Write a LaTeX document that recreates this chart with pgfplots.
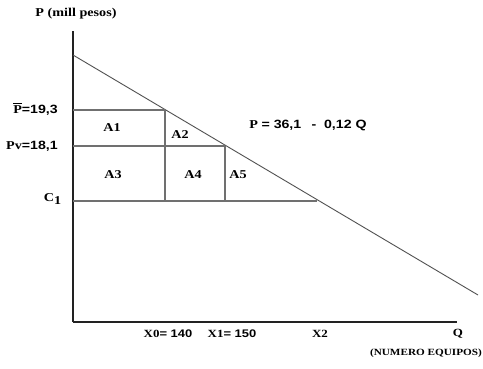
\documentclass[border=0pt]{standalone}
\usepackage{pgfplots}
\pgfplotsset{compat=1.18}
\usepackage{graphicx}
\usepackage{fontspec}
\setmainfont{Liberation Serif}
\newfontfamily\arial{Liberation Sans}
\newcommand{\st}[1]{\scalebox{1.18}[1]{#1}}
\newcommand{\Pbar}{\leavevmode\vbox{\hrule height 0.7pt\kern 2.2pt\hbox{P}}}
\definecolor{axc}{HTML}{222222}
\definecolor{grc}{HTML}{707070}
\definecolor{dmc}{HTML}{505050}
\begin{document}
\begin{tikzpicture}
\begin{axis}[x=1bp,y=1bp,xmin=-73,xmax=410,ymin=-46,ymax=322,
  hide axis,clip=false,scale only axis]
\path (rel axis cs:0,0) rectangle (rel axis cs:1,1);
% axes
\addplot[axc,line width=1.3bp] coordinates {(0,0) (0,291)};
\addplot[axc,line width=1.3bp] coordinates {(0,0) (384,0)};
% demand line
\addplot[dmc,line width=0.9bp] coordinates {(0,267) (405,27)};
% rectangles
\addplot[grc,line width=1.1bp] coordinates {(0,212) (92,212)};
\addplot[grc,line width=1.1bp] coordinates {(92,121) (92,212)};
\addplot[grc,line width=1.1bp] coordinates {(0,176) (152,176)};
\addplot[grc,line width=1.1bp] coordinates {(152,121) (152,176)};
\addplot[grc,line width=1.1bp] coordinates {(0,121) (244,121)};
% labels
\node[font=\fontsize{12bp}{14bp}\selectfont\bfseries] at (axis cs:3,308) {\st{P (mill pesos)}};
\node[anchor=east,inner sep=0pt,font=\fontsize{12bp}{14bp}\selectfont\bfseries] at (axis cs:-15,213) {\st{\Pbar\arial=19,3}};
\node[anchor=east,inner sep=0pt,font=\fontsize{12bp}{14bp}\selectfont\bfseries] at (axis cs:-15,176) {\st{Pv\arial=18,1}};
\node[anchor=east,inner sep=0pt,font=\fontsize{12bp}{14bp}\selectfont\bfseries] at (axis cs:-11,123) {\st{C$_{\mbox{\bfseries 1}}$}};
\node[font=\fontsize{12bp}{14bp}\selectfont\bfseries] at (axis cs:39,194) {\st{A1}};
\node[font=\fontsize{12bp}{14bp}\selectfont\bfseries] at (axis cs:107,187) {\st{A2}};
\node[font=\fontsize{12bp}{14bp}\selectfont\bfseries] at (axis cs:40,147) {\st{A3}};
\node[font=\fontsize{12bp}{14bp}\selectfont\bfseries] at (axis cs:120,147) {\st{A4}};
\node[font=\fontsize{12bp}{14bp}\selectfont\bfseries] at (axis cs:165,147) {\st{A5}};
\node[font=\fontsize{12bp}{14bp}\selectfont\bfseries] at (axis cs:235,197) {\st{P {\arial= 36,1 \ \,- \ 0,12 Q}}};
\node[font=\fontsize{11bp}{13bp}\selectfont\bfseries] at (axis cs:95,-12) {\st{X0{\arial= 140}}};
\node[font=\fontsize{11bp}{13bp}\selectfont\bfseries] at (axis cs:159,-12) {\st{X1{\arial= 150}}};
\node[font=\fontsize{11bp}{13bp}\selectfont\bfseries] at (axis cs:247,-12) {\st{X2}};
\node[font=\fontsize{11bp}{13bp}\selectfont\bfseries] at (axis cs:385,-12) {\st{Q}};
\node[anchor=east,inner sep=0pt,font=\fontsize{9.5bp}{11bp}\selectfont\bfseries] at (axis cs:409,-31) {\st{(NUMERO EQUIPOS)}};
\end{axis}
\end{tikzpicture}
\end{document}
